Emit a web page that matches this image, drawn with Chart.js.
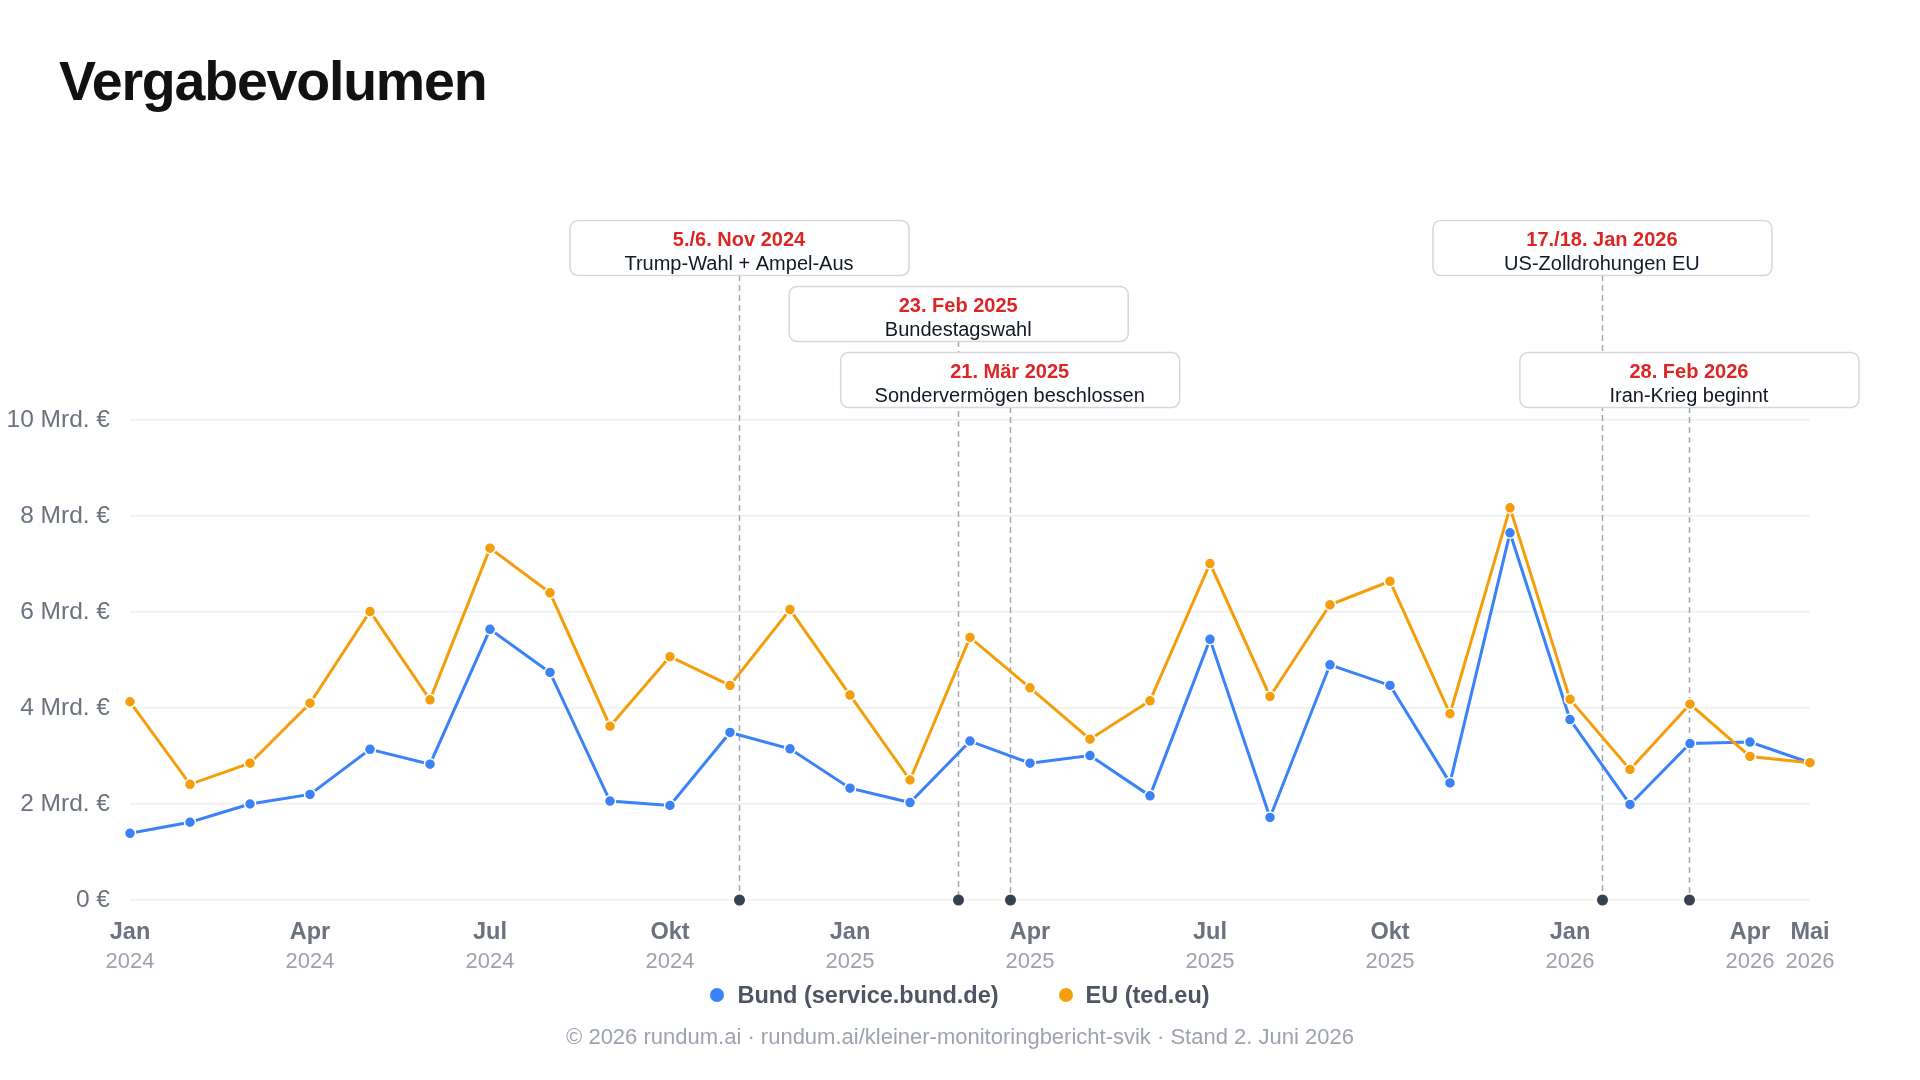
<!DOCTYPE html>
<html>
<head>
<meta charset="utf-8">
<title>Vergabevolumen</title>
<script src="https://cdn.jsdelivr.net/npm/chart.js@4"></script>
<style>
  html, body { margin: 0; padding: 0; background: #ffffff; }
  body { width: 1920px; height: 1080px; position: relative; overflow: hidden;
         font-family: "Liberation Sans", Arial, Helvetica, sans-serif; }
  #title { position: absolute; left: 59px; top: 54px; margin: 0; font-size: 55.5px; line-height: 55px;
           font-weight: 700; letter-spacing: -1.2px; color: #111111; }
  #chart { position: absolute; left: 0; top: 0; }
  #legend { position: absolute; left: 0; top: 980px; width: 1920px; height: 30px; display: flex;
            justify-content: center; align-items: center; font-size: 23.5px; font-weight: 700; color: #4b5563; }
  .item { display: flex; align-items: center; }
  .item + .item { margin-left: 60px; }
  .dot { width: 14px; height: 14px; border-radius: 50%; margin-right: 13px; }
  #footer { position: absolute; left: 0; top: 1024px; width: 1920px; text-align: center; font-size: 22px;
            line-height: 26px; color: #9ca3af; }
</style>
</head>
<body>
<h1 id="title">Vergabevolumen</h1>
<canvas id="chart" width="1920" height="1080"></canvas>
<div id="legend"></div>
<div id="footer">© 2026 rundum.ai · rundum.ai/kleiner-monitoringbericht-svik · Stand 2. Juni 2026</div>
<script>
// ---- data ----
const categories = [
  'Jan 2024','Feb 2024','Mär 2024','Apr 2024','Mai 2024','Jun 2024','Jul 2024','Aug 2024','Sep 2024','Okt 2024','Nov 2024','Dez 2024',
  'Jan 2025','Feb 2025','Mär 2025','Apr 2025','Mai 2025','Jun 2025','Jul 2025','Aug 2025','Sep 2025','Okt 2025','Nov 2025','Dez 2025',
  'Jan 2026','Feb 2026','Mär 2026','Apr 2026','Mai 2026'
];
const bund = [1.39,1.62,2.00,2.20,3.14,2.83,5.64,4.74,2.06,1.97,3.49,3.15,
              2.33,2.03,3.31,2.85,3.01,2.17,5.43,1.72,4.90,4.47,2.44,7.65,
              3.76,1.99,3.26,3.29,2.86];
const eu   = [4.13,2.41,2.85,4.10,6.01,4.17,7.33,6.40,3.62,5.07,4.47,6.05,
              4.27,2.50,5.47,4.42,3.35,4.15,7.01,4.24,6.15,6.64,3.88,8.17,
              4.18,2.72,4.08,2.99,2.86];
const seriesNames = ['Bund (service.bund.de)', 'EU (ted.eu)'];
const xTickIndex = [0,3,6,9,12,15,18,21,24,27,28];
const yTickValues = [0,2,4,6,8,10];
const yTickLabels = ['0 €','2 Mrd. €','4 Mrd. €','6 Mrd. €','8 Mrd. €','10 Mrd. €'];
const eventDates = [[2024,11,5],[2025,2,23],[2025,3,21],[2026,1,17],[2026,2,28]];
const eventDateLabels = ['5./6. Nov 2024','23. Feb 2025','21. Mär 2025','17./18. Jan 2026','28. Feb 2026'];
const eventTexts = ['Trump-Wahl + Ampel-Aus','Bundestagswahl','Sondervermögen beschlossen','US-Zolldrohungen EU','Iran-Krieg beginnt'];

// ---- layout / style ----
const eventRows = [0,1,2,0,2];
const colors = ['#3b82f6', '#f59e0b'];
const FONT = '"Liberation Sans", Arial, Helvetica, sans-serif';
const BOX_W = 339, BOX_H = 55, ROW_GAP = 66, BOX_OFFSET = 200;

function monthPos(d) {
  const days = new Date(d[0], d[1], 0).getDate();
  return (d[0] - 2024) * 12 + (d[1] - 1) + (d[2] - 0.5) / days;
}
const eventPos = eventDates.map(monthPos);

// legend (HTML)
const legend = document.getElementById('legend');
seriesNames.forEach((n, i) => {
  const it = document.createElement('div'); it.className = 'item';
  const dot = document.createElement('span'); dot.className = 'dot'; dot.style.background = colors[i];
  const t = document.createElement('span'); t.textContent = n;
  it.appendChild(dot); it.appendChild(t); legend.appendChild(it);
});

const eventsPlugin = {
  id: 'events',
  beforeDatasetsDraw(chart) {
    const { ctx, chartArea, scales: { x, y } } = chart;
    const y0 = y.getPixelForValue(0);
    ctx.save();
    ctx.strokeStyle = '#a3a7ae';
    ctx.lineWidth = 1.5;
    ctx.setLineDash([6, 4]);
    eventPos.forEach((p, i) => {
      const px = Math.round(x.getPixelForValue(p)) + 0.5;
      const top = chartArea.top - BOX_OFFSET + eventRows[i] * ROW_GAP + BOX_H;
      ctx.beginPath(); ctx.moveTo(px, top); ctx.lineTo(px, y0); ctx.stroke();
    });
    ctx.restore();
  },
  afterDraw(chart) {
    const { ctx, chartArea, scales: { x, y } } = chart;
    const y0 = y.getPixelForValue(0);
    ctx.save();
    eventPos.forEach((p) => {
      const px = Math.round(x.getPixelForValue(p)) + 0.5;
      ctx.beginPath(); ctx.arc(px, y0, 5.5, 0, Math.PI * 2);
      ctx.fillStyle = '#374151'; ctx.fill();
    });
    eventPos.forEach((p, i) => {
      const px = x.getPixelForValue(p);
      const top = chartArea.top - BOX_OFFSET + eventRows[i] * ROW_GAP;
      const left = px - BOX_W / 2;
      ctx.beginPath();
      ctx.roundRect(left + 0.5, top + 0.5, BOX_W, BOX_H, 8);
      ctx.fillStyle = '#ffffff'; ctx.fill();
      ctx.lineWidth = 1.5; ctx.strokeStyle = '#d4d7dc'; ctx.stroke();
      ctx.textAlign = 'center'; ctx.textBaseline = 'middle';
      ctx.font = 'bold 20px ' + FONT; ctx.fillStyle = '#dc2626';
      ctx.fillText(eventDateLabels[i], px, top + 20);
      ctx.font = '20px ' + FONT; ctx.fillStyle = '#111827';
      ctx.fillText(eventTexts[i], px, top + 44.5);
    });
    ctx.restore();
  }
};

function setXTicks(scale) { scale.ticks = xTickIndex.map(v => ({ value: v })); }

new Chart(document.getElementById('chart'), {
  type: 'line',
  data: {
    datasets: [
      { label: seriesNames[0], data: bund.map((v, i) => ({ x: i, y: v })), order: 1 },
      { label: seriesNames[1], data: eu.map((v, i) => ({ x: i, y: v })), order: 0 }
    ].map((d, i) => Object.assign(d, {
      borderColor: colors[i], backgroundColor: colors[i], borderWidth: 3,
      pointRadius: 5.5, pointBackgroundColor: colors[i], pointBorderColor: '#ffffff', pointBorderWidth: 1.5,
      tension: 0, clip: false, fill: false
    }))
  },
  options: {
    responsive: false, animation: false, devicePixelRatio: 1,
    layout: { padding: { left: 0, right: 110, top: 420, bottom: 105 } },
    plugins: { legend: { display: false }, tooltip: { enabled: false }, title: { display: false } },
    scales: {
      x: {
        type: 'linear', position: 'bottom', min: 0, max: categories.length - 1, weight: 0,
        grid: { display: false, drawTicks: false }, border: { display: false },
        afterBuildTicks: setXTicks,
        afterFit(s) { s.height = 47; },
        ticks: { autoSkip: false, maxRotation: 0, minRotation: 0, padding: 18, color: '#6b7280',
                 font: { family: FONT, size: 23.5, weight: 'bold' },
                 callback: v => categories[v].split(' ')[0] }
      },
      x2: {
        type: 'linear', axis: 'x', position: 'bottom', min: 0, max: categories.length - 1, weight: 1,
        grid: { display: false, drawTicks: false }, border: { display: false },
        afterBuildTicks: setXTicks,
        afterFit(s) { s.height = 28; },
        ticks: { autoSkip: false, maxRotation: 0, minRotation: 0, padding: 2, color: '#9ca3af',
                 font: { family: FONT, size: 22 },
                 callback: v => categories[v].split(' ')[1] }
      },
      y: {
        type: 'linear', min: 0, max: 10,
        afterBuildTicks(s) { s.ticks = yTickValues.map(v => ({ value: v })); },
        afterFit(s) { s.width = 130; },
        grid: { color: '#eff0f2', lineWidth: 1.5, drawTicks: false }, border: { display: false },
        ticks: { padding: 20, color: '#6b7280', font: { family: FONT, size: 24.5 },
                 callback: v => yTickLabels[yTickValues.indexOf(v)] }
      }
    }
  },
  plugins: [eventsPlugin]
});
</script>
</body>
</html>
